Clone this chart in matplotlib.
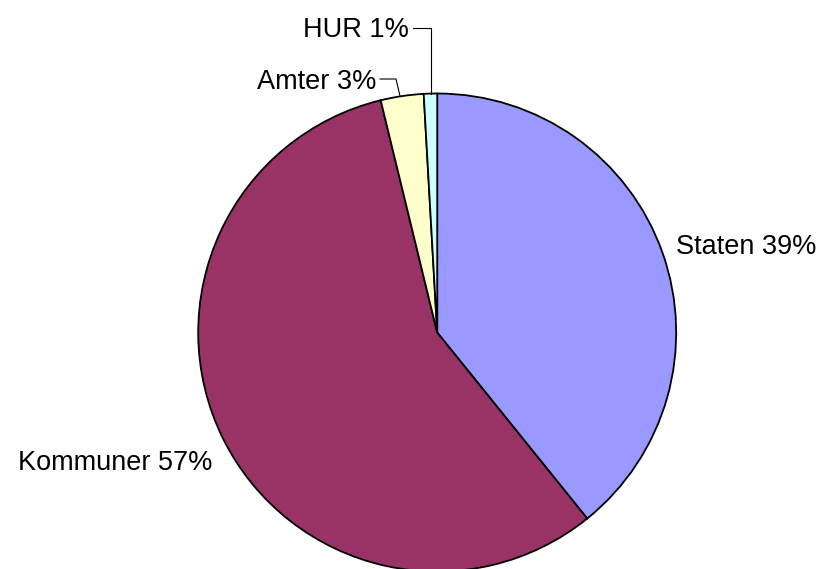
import matplotlib
matplotlib.use("Agg")
import matplotlib.pyplot as plt

labels = ["Staten", "Kommuner", "Amter", "HUR"]
values = [39.2, 57.0, 2.9, 0.9]
pct_labels = ["39%", "57%", "3%", "1%"]
colors = ["#9999FF", "#993366", "#FFFFCC", "#CCFFFF"]

W, H = 821, 569
fig = plt.figure(figsize=(W / 100, H / 100), dpi=100)
ax = fig.add_axes([0, 0, 1, 1])

cx, cy, r = 437.2, H - 332.5, 239
ax.pie(values, colors=colors, startangle=90, counterclock=False,
       center=(cx, cy), radius=r, frame=True,
       wedgeprops=dict(edgecolor="black", linewidth=1.3))
ax.set_xlim(0, W)
ax.set_ylim(0, H)
ax.set_aspect("equal")
ax.axis("off")

font = dict(family=["Liberation Sans", "DejaVu Sans"], fontsize=19.5, color="black")
texts = [f"{l} {p}" for l, p in zip(labels, pct_labels)]
ax.text(676, H - 254, texts[0], ha="left", va="baseline", **font)
ax.text(212, H - 470, texts[1], ha="right", va="baseline", **font)
ax.text(376, H - 89, texts[2], ha="right", va="baseline", **font)
ax.text(409, H - 37, texts[3], ha="right", va="baseline", **font)

# leader lines
ax.plot([380, 396, 400], [H - 79, H - 79, H - 96], color="black", lw=0.8)
ax.plot([413, 431, 431], [H - 28, H - 28, H - 94], color="black", lw=0.8)

fig.savefig("out.png", dpi=100)
